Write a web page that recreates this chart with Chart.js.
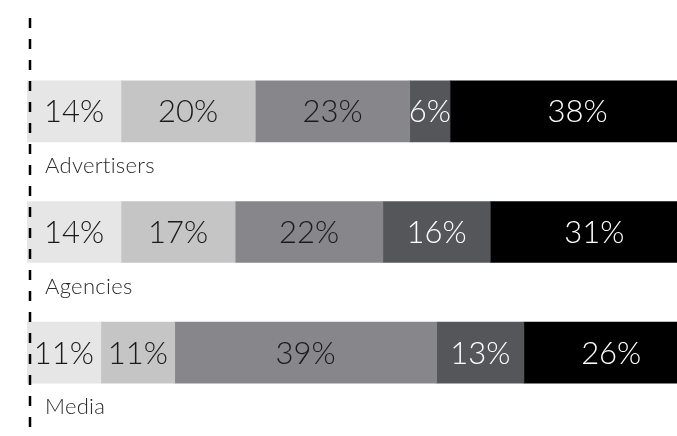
<!DOCTYPE html>
<html>
<head>
<meta charset="utf-8">
<script src="https://cdn.jsdelivr.net/npm/chart.js@4"></script>
<style>
  html, body { margin: 0; padding: 0; background: #fff; }
  #wrap { width: 677px; height: 436px; position: relative; }
</style>
</head>
<body>
<div id="wrap"><canvas id="myChart"></canvas></div>
<script>
// categorie e valori
const categories = ['Advertisers', 'Agencies', 'Media'];
const seg1 = [14, 14, 11];
const seg2 = [20, 17, 11];
const seg3 = [23, 22, 39];
const seg4 = [6, 16, 13];
const seg5 = [38, 31, 26];

const segColors = ['#e6e6e6', '#c5c5c5', '#87878b', '#55565a', '#000000'];
const textColors = ['#1a1a1a', '#1a1a1a', '#1a1a1a', '#ffffff', '#ffffff'];
const FONT = 'Lato';

// etichette dentro le barre + nome categoria sotto + linea tratteggiata
const labelsPlugin = {
  id: 'labelsPlugin',
  afterDatasetsDraw(chart) {
    const ctx = chart.ctx;
    ctx.save();
    ctx.textAlign = 'center';
    ctx.textBaseline = 'middle';
    ctx.font = `300 31px ${FONT}`;
    chart.data.datasets.forEach((ds, i) => {
      const meta = chart.getDatasetMeta(i);
      meta.data.forEach((bar, j) => {
        const x = (bar.x + bar.base) / 2;
        ctx.fillStyle = textColors[i];
        ctx.fillText(ds.data[j] + '%', x, bar.y + 1);
      });
    });

    // nomi categorie sotto le barre (letterSpacing evita la legatura "ti")
    ctx.textAlign = 'left';
    ctx.textBaseline = 'alphabetic';
    ctx.font = `300 22px ${FONT}`;
    ctx.letterSpacing = '0.3px';
    ctx.fillStyle = '#2a2a2a';
    const meta0 = chart.getDatasetMeta(0);
    meta0.data.forEach((bar, j) => {
      const bottom = bar.y + bar.height / 2;
      ctx.fillText(categories[j], 45, bottom + 31);
    });
    ctx.letterSpacing = '0px';

    // linea tratteggiata verticale
    ctx.strokeStyle = '#000';
    ctx.lineWidth = 2.5;
    ctx.setLineDash([10, 11]);
    ctx.beginPath();
    ctx.moveTo(30, 18);
    ctx.lineTo(30, 436);
    ctx.stroke();
    ctx.restore();
  }
};

const allSegs = [seg1, seg2, seg3, seg4, seg5];

const ctx = document.getElementById('myChart').getContext('2d');
const myChart = new Chart(ctx, {
  type: 'bar',
  data: {
    labels: categories,
    datasets: allSegs.map((s, i) => ({
      label: 's' + i,
      data: s,
      backgroundColor: segColors[i],
      borderWidth: 0,
      barThickness: 61
    }))
  },
  options: {
    indexAxis: 'y',
    responsive: true,
    maintainAspectRatio: false,
    animation: false,
    layout: { padding: { left: 27, right: 0, top: 51, bottom: 23 } },
    plugins: {
      legend: { display: false },
      tooltip: { enabled: false }
    },
    scales: {
      x: { stacked: true, min: 0, max: 96.8, display: false },
      y: { stacked: true, display: false }
    }
  },
  plugins: [labelsPlugin]
});
</script>
</body>
</html>
